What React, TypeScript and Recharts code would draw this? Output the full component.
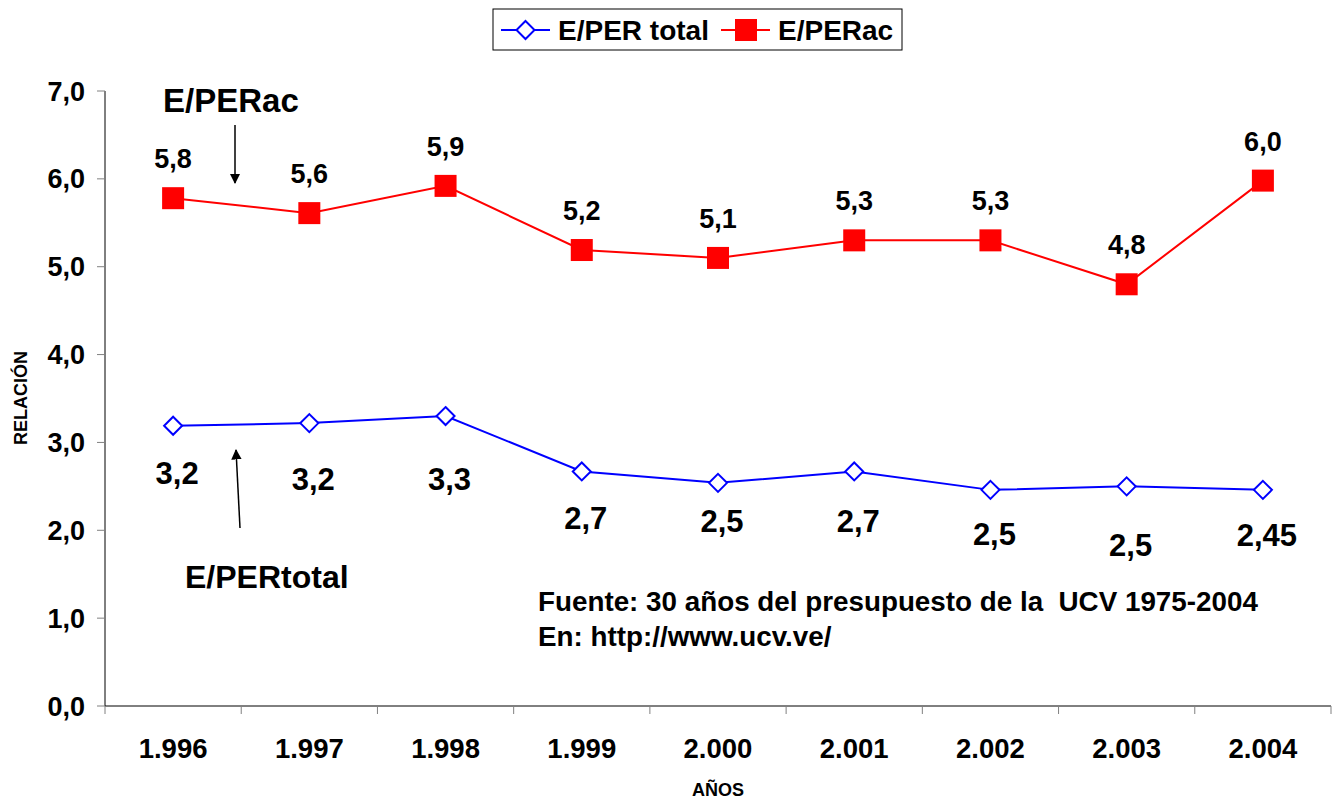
import React from "react";
import { LineChart, Line, XAxis, YAxis, LabelList } from "recharts";

const years = ["1.996", "1.997", "1.998", "1.999", "2.000", "2.001", "2.002", "2.003", "2.004"];
const perTotal = [3.19, 3.22, 3.3, 2.67, 2.54, 2.67, 2.46, 2.5, 2.46];
const perAc = [5.78, 5.61, 5.92, 5.19, 5.1, 5.3, 5.3, 4.8, 5.98];
const totalLabels = ["3,2", "3,2", "3,3", "2,7", "2,5", "2,7", "2,5", "2,5", "2,45"];
const acLabels = ["5,8", "5,6", "5,9", "5,2", "5,1", "5,3", "5,3", "4,8", "6,0"];
const yTicks = [0, 1, 2, 3, 4, 5, 6, 7];

const data = years.map((year, i) => ({
  year,
  total: perTotal[i],
  ac: perAc[i],
}));

// label offsets below the blue points, as in the original sheet
const totalLabelDy = [47, 56, 63, 47, 38, 50, 44, 59, 45];

const W = 1335;
const H = 800;
const LEFT = 105;
const RIGHT = 4;
const TOP = 91;
const XH = 94;
const BAND = (W - LEFT - RIGHT) / years.length;
const FONT = "'Liberation Sans', Arial, Helvetica, sans-serif";

const Diamond = (props: any) => {
  const { cx, cy } = props;
  if (cx == null || cy == null) return null;
  const r = 9;
  return (
    <path
      d={`M${cx},${cy - r} L${cx + r},${cy} L${cx},${cy + r} L${cx - r},${cy} Z`}
      fill="#fff"
      stroke="#0000ff"
      strokeWidth={2}
    />
  );
};

const Square = (props: any) => {
  const { cx, cy } = props;
  if (cx == null || cy == null) return null;
  const s = 11;
  return <rect x={cx - s} y={cy - s} width={s * 2} height={s * 2} fill="#ff0000" />;
};

const XTick = (props: any) => {
  const { x, y, payload, index } = props;
  const left = x - BAND / 2;
  return (
    <g>
      <line x1={left} x2={left} y1={y} y2={y + 8} stroke="#808080" />
      {index === years.length - 1 && (
        <line x1={x + BAND / 2} x2={x + BAND / 2} y1={y} y2={y + 8} stroke="#808080" />
      )}
      <text
        x={x}
        y={y + 52}
        textAnchor="middle"
        fontFamily={FONT}
        fontWeight="bold"
        fontSize={27.5}
        fill="#000"
      >
        {payload.value}
      </text>
    </g>
  );
};

const AcLabel = (props: any) => {
  const { x, y, index } = props;
  return (
    <text
      x={x}
      y={y - 40}
      dy={10}
      textAnchor="middle"
      fontFamily={FONT}
      fontWeight="bold"
      fontSize={27}
      fill="#000"
    >
      {acLabels[index]}
    </text>
  );
};

const TotalLabel = (props: any) => {
  const { x, y, index } = props;
  return (
    <text
      x={x + 4}
      y={y + totalLabelDy[index]}
      dy={11}
      textAnchor="middle"
      fontFamily={FONT}
      fontWeight="bold"
      fontSize={31}
      fill="#000"
    >
      {totalLabels[index]}
    </text>
  );
};

export default function App() {
  return (
    <div style={{ position: "absolute", left: 0, top: 0, width: W, height: H, background: "#fff" }}>
      <LineChart
        width={W}
        height={H}
        data={data}
        margin={{ top: TOP, right: RIGHT, left: 0, bottom: 0 }}
      >
        <XAxis
          dataKey="year"
          height={XH}
          padding={{ left: BAND / 2, right: BAND / 2 }}
          tickSize={0}
          tickMargin={0}
          tickLine={false}
          axisLine={{ stroke: "#000", strokeWidth: 1 }}
          tick={<XTick />}
          interval={0}
        />
        <YAxis
          width={LEFT}
          domain={[0, 7]}
          ticks={yTicks}
          interval={0}
          tickSize={8}
          tickMargin={12}
          tickLine={{ stroke: "#808080" }}
          axisLine={{ stroke: "#000", strokeWidth: 1 }}
          tickFormatter={(v: number) => v.toFixed(1).replace(".", ",")}
          tick={{ fontFamily: FONT, fontWeight: "bold", fontSize: 27, fill: "#000" }}
        />
        <Line
          dataKey="total"
          stroke="#0000ff"
          strokeWidth={2}
          dot={<Diamond />}
          activeDot={false}
          isAnimationActive={false}
        >
          <LabelList dataKey="total" content={<TotalLabel />} />
        </Line>
        <Line
          dataKey="ac"
          stroke="#ff0000"
          strokeWidth={2}
          dot={<Square />}
          activeDot={false}
          isAnimationActive={false}
        >
          <LabelList dataKey="ac" content={<AcLabel />} />
        </Line>
      </LineChart>

      <svg
        width={W}
        height={H}
        style={{ position: "absolute", left: 0, top: 0, pointerEvents: "none" }}
        fontFamily={FONT}
      >
        <defs>
          <marker id="arr" viewBox="0 0 10 10" refX="9" refY="5" markerWidth="7" markerHeight="9" orient="auto">
            <path d="M0,0 L10,5 L0,10 Z" fill="#000" />
          </marker>
        </defs>

        {/* legend */}
        <rect x={493} y={9} width={409} height={41} fill="#fff" stroke="#000" strokeWidth={1} />
        <line x1={501} x2={550} y1={30} y2={30} stroke="#0000ff" strokeWidth={2} />
        <path d="M525.5,21 L534.5,30 L525.5,39 L516.5,30 Z" fill="#fff" stroke="#0000ff" strokeWidth={2} />
        <text x={558} y={40} fontSize={28} fontWeight="bold" fill="#000">E/PER total</text>
        <line x1={721} x2={770} y1={30} y2={30} stroke="#ff0000" strokeWidth={2} />
        <rect x={735} y={19} width={22} height={22} fill="#ff0000" />
        <text x={778} y={40} fontSize={28} fontWeight="bold" fill="#000">E/PERac</text>

        {/* annotations */}
        <text x={163} y={112} fontSize={33} fontWeight="bold" fill="#000">E/PERac</text>
        <line x1={235} y1={125} x2={235} y2={183} stroke="#000" strokeWidth={1.5} markerEnd="url(#arr)" />
        <text x={185} y={588} fontSize={32} fontWeight="bold" fill="#000">E/PERtotal</text>
        <line x1={240} y1={528} x2={236} y2={450} stroke="#000" strokeWidth={1.5} markerEnd="url(#arr)" />

        <text x={538} y={611} fontSize={27.8} fontWeight="bold" fill="#000" style={{ whiteSpace: "pre" }}>
          {"Fuente: 30 años del presupuesto de la  UCV 1975-2004"}
        </text>
        <text x={538} y={646} fontSize={27.8} fontWeight="bold" fill="#000">En: http://www.ucv.ve/</text>

        {/* axis titles */}
        <text
          transform="translate(27,398) rotate(-90)"
          textAnchor="middle"
          fontSize={18}
          fontWeight="bold"
          fill="#000"
        >
          RELACIÓN
        </text>
        <text x={718} y={796} textAnchor="middle" fontSize={18} fontWeight="bold" fill="#000">AÑOS</text>
      </svg>
    </div>
  );
}
